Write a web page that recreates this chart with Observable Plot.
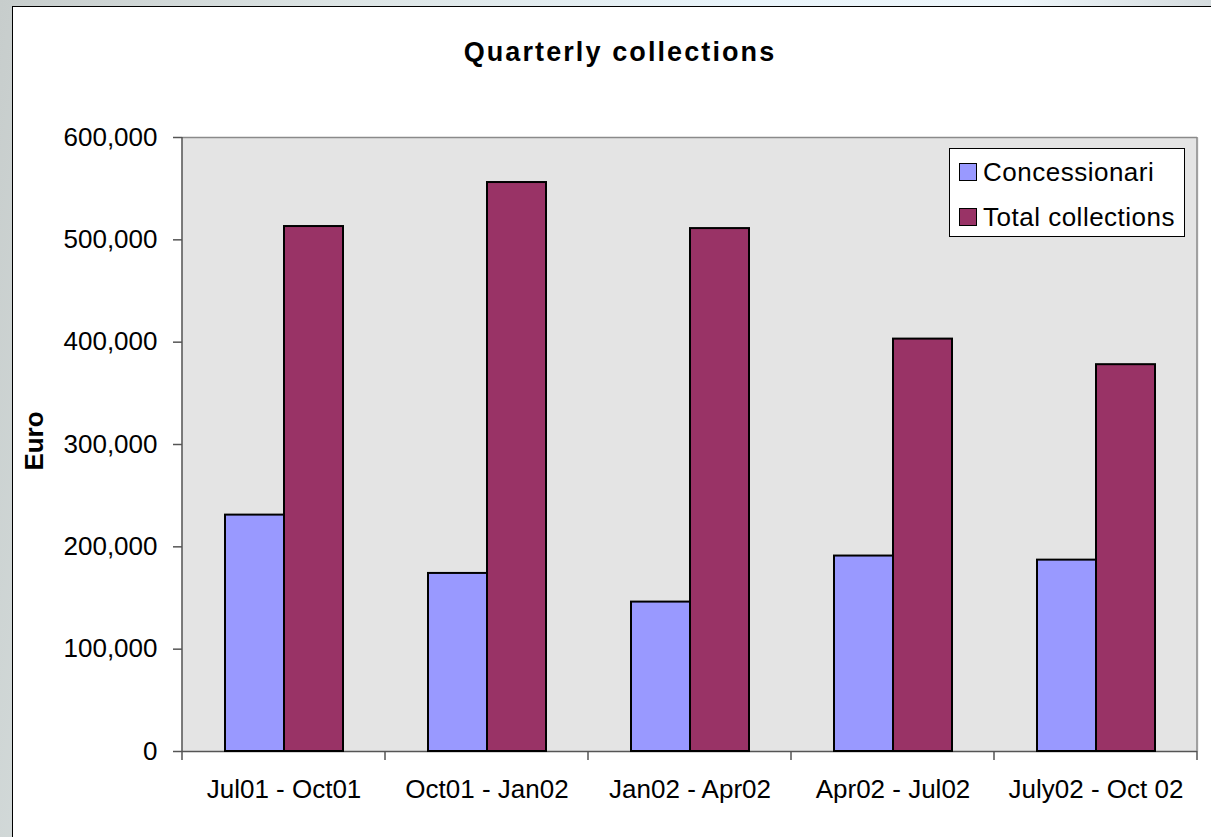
<!DOCTYPE html>
<html><head><meta charset="utf-8">
<script src="https://cdn.jsdelivr.net/npm/d3@7"></script>
<script src="https://cdn.jsdelivr.net/npm/@observablehq/plot@0.6"></script>
<style>
html,body{margin:0;padding:0;width:1211px;height:837px;overflow:hidden;}
body{background:linear-gradient(100deg,#c7cdcc 0%,#dde5e5 25%,#eaf5fb 55%,#eef6fa 75%,#c3c9ca 100%);font-family:"Liberation Sans",Arial,sans-serif;position:relative;}
#box{position:absolute;left:12px;top:6px;width:1230px;height:860px;background:#fff;border:1.5px solid #000;}
#title{position:absolute;left:20px;width:1200px;top:37px;text-align:center;font-weight:bold;font-size:27px;letter-spacing:2.1px;color:#000;}
#ylabel{position:absolute;left:34px;top:441px;transform:translate(-50%,-50%) rotate(-90deg);font-weight:bold;font-size:26px;color:#000;}
#chart{position:absolute;left:0;top:0;}
#legend{position:absolute;left:949px;top:148px;width:236px;height:89px;background:#fff;border:1px solid #000;box-sizing:border-box;}
.item{position:absolute;left:9px;height:30px;line-height:30px;display:flex;align-items:center;font-size:26px;letter-spacing:0.5px;white-space:nowrap;}
.sw{width:16px;height:16px;border:1.5px solid #000;margin-right:6px;flex:none;}
</style></head>
<body>
<div id="box"></div>
<div id="chart"></div>
<div id="title">Quarterly collections</div>
<div id="ylabel">Euro</div>
<div id="legend"></div>
<script>
const categories = ["Jul01 - Oct01", "Oct01 - Jan02", "Jan02 - Apr02", "Apr02 - Jul02", "July02 - Oct 02"];
const series = ["Concessionari", "Total collections"];
const concessionari = [231000, 174000, 146000, 191000, 187000];
const totalCollections = [513000, 556000, 511000, 403000, 378000];
const yTicks = [0, 100000, 200000, 300000, 400000, 500000, 600000];
const colors = ["#9999ff", "#993366"];

const data = categories.flatMap((c, i) => [
  {category: c, series: series[0], value: concessionari[i]},
  {category: c, series: series[1], value: totalCollections[i]}
]);

const yMax = yTicks[yTicks.length - 1];

const chart = Plot.plot({
  width: 1211, height: 837,
  marginLeft: 180, marginRight: 13, marginTop: 137, marginBottom: 86,
  style: {fontFamily: "Liberation Sans, Arial, sans-serif", fontSize: "26px", background: "transparent", overflow: "visible", color: "#000"},
  fx: {domain: categories, padding: 0, label: null, axis: null},
  x: {domain: series, paddingInner: 0, paddingOuter: 0.71, axis: null},
  y: {domain: [0, yMax]},
  color: {domain: series, range: colors},
  marks: [
    Plot.frame({fill: "#e4e4e4", stroke: "none", insetLeft: -1, insetRight: -1}),
    Plot.ruleY([yMax], {stroke: "#8a8a8a", strokeWidth: 1.5}),
    Plot.ruleY([0], {stroke: "#555", strokeWidth: 1.5}),
    Plot.barY(data, {fx: "category", x: "series", y: "value", fill: "series", stroke: "#000", strokeWidth: 2}),
    Plot.axisY({ticks: yTicks, tickFormat: d3.format(","), tickSize: 9, tickPadding: 16, stroke: "#555", strokeWidth: 1.5, label: null, fontSize: 26, letterSpacing: 0.8}),
    Plot.axisFx({anchor: "bottom", tickSize: 0, tickPadding: 28, label: null, fontSize: 26})
  ]
});
document.getElementById("chart").appendChild(chart);

// frame sides and category boundary ticks from the library's scales
const svg = d3.select(chart);
const fx = chart.scale("fx"), y = chart.scale("y");
const y0 = y.apply(0), y1 = y.apply(yMax);
const edges = categories.map(c => fx.apply(c));
edges.push(fx.apply(categories[categories.length - 1]) + fx.bandwidth);
const g = svg.append("g");
g.append("line").attr("x1", edges[edges.length-1]).attr("x2", edges[edges.length-1]).attr("y1", y1).attr("y2", y0).attr("stroke", "#8a8a8a").attr("stroke-width", 1.5);
g.append("line").attr("x1", edges[0]).attr("x2", edges[0]).attr("y1", y1).attr("y2", y0).attr("stroke", "#555").attr("stroke-width", 1.5);
g.selectAll(".bt").data(edges).join("line").attr("x1", d => d).attr("x2", d => d).attr("y1", y0).attr("y2", y0 + 9).attr("stroke", "#555").attr("stroke-width", 1.5);

// legend
const legend = d3.select("#legend");
series.forEach((s, i) => {
  const it = legend.append("div").attr("class", "item").style("top", (8 + i * 44.5) + "px");
  it.append("div").attr("class", "sw").style("background", colors[i]);
  it.append("span").text(s);
});
</script>
</body></html>
